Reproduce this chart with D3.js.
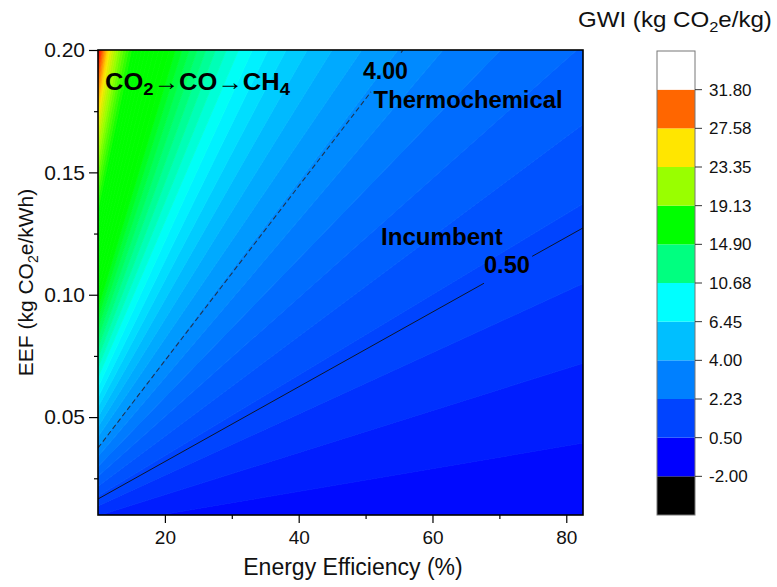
<!DOCTYPE html>
<html><head><meta charset="utf-8">
<script src="https://cdn.jsdelivr.net/npm/d3@7"></script>
<style>
body{margin:0;background:#fff;}
text{font-family:"Liberation Sans",Arial,Helvetica,sans-serif;}
</style>
</head><body>
<svg id="c" width="777" height="587"></svg>
<script>
// ---------------- data ----------------
const effRange = [10, 82.5];            // Energy Efficiency (%)
const eefRange = [0.01, 0.20];          // EEF (kg CO2e/kWh)
const xTicks = [20, 40, 60, 80];
const xMinorTicks = [30, 50, 70];
const yTicks = [0.05, 0.10, 0.15, 0.20];
const yMinorTicks = [0.025, 0.075, 0.125, 0.175];

// labelled contour lines: level, start / end point [efficiency, EEF]
const contourLevels = [0.50, 4.00];
const contourLabels = ["0.50", "4.00"];
const contourStart = [[10, 0.01654], [10, 0.0374]];
const contourEnd = [[82.5, 0.1273], [55.6, 0.200]];
const contourGaps = [[67.7, 74.9], [50.8, 55.3]];   // label gaps (efficiency)
const contourDash = ["none", "5,3"];

// colour bar
const barLevels = [-2.00, 0.50, 2.23, 4.00, 6.45, 10.68, 14.90, 19.13, 23.35, 27.58, 31.80];
const barColors = ["#000000", "#0000ff", "#0044ff", "#0080ff", "#00bfff", "#00ffff",
                   "#00ff80", "#00ff00", "#99ff00", "#ffe600", "#ff6600", "#ffffff"];

// fill colour map of the contour plot
const fillStopValues = [-2.0, 0.5, 2.2, 4.0, 6.0, 8.3, 11.0, 14.0, 20.0, 24.0, 27.0, 29.3, 31.0];
const fillStopColors = ["#0000ff", "#0048ff", "#0068ff", "#0090ff", "#00bfff", "#00ffff",
                        "#00ff80", "#00ff00", "#00ff00", "#99ff00", "#ffe600", "#ff6600", "#ff0000"];
const fillLevelCount = 50;

// annotations [text parts, efficiency, EEF(baseline), width]
const notes = [
  {parts: [["CO", 0], ["2", 1], ["\u2192CO\u2192CH", 0], ["4", 1]], x: 11.05, y: 0.1837, w: 185},
  {parts: [["4.00", 0]], x: 49.6, y: 0.1882, w: 45},
  {parts: [["Thermochemical", 0]], x: 51.2, y: 0.1764, w: 189},
  {parts: [["Incumbent", 0]], x: 52.3, y: 0.1205, w: 122},
  {parts: [["0.50", 0]], x: 67.7, y: 0.1087, w: 46}
];

// ---------------- drawing ----------------
const svg = d3.select("#c");
const P = {left: 98, right: 583, top: 50, bottom: 515};
const x = d3.scaleLinear().domain(effRange).range([P.left, P.right]);
const y = d3.scaleLinear().domain(eefRange).range([P.bottom, P.top]);

const lineParams = contourLevels.map((L, i) => {
  const [x0, y0] = contourStart[i], [x1, y1] = contourEnd[i];
  const m = (y1 - y0) / (x1 - x0);
  return {L, m, p: y0 - m * x0};
});
function paramsFor(L) {
  const a = lineParams[0], b = lineParams[1];
  const t = (L - a.L) / (b.L - a.L);
  return {m: a.m + t * (b.m - a.m), p: a.p + t * (b.p - a.p)};
}
function clipHalf(poly, fn) {
  const out = [];
  for (let i = 0; i < poly.length; i++) {
    const A = poly[i], B = poly[(i + 1) % poly.length];
    const fa = fn(A), fb = fn(B);
    if (fa >= 0) out.push(A);
    if ((fa >= 0) !== (fb >= 0)) {
      const t = fa / (fa - fb);
      out.push([A[0] + t * (B[0] - A[0]), A[1] + t * (B[1] - A[1])]);
    }
  }
  return out;
}

const rect = [[effRange[0], eefRange[0]], [effRange[1], eefRange[0]],
              [effRange[1], eefRange[1]], [effRange[0], eefRange[1]]];
const lo = barLevels[0], hi = barLevels[barLevels.length - 1];
const fillLevels = d3.range(fillLevelCount + 1).map(i => lo + i * (hi - lo) / fillLevelCount);
const cmap = d3.scaleLinear().domain(fillStopValues).range(fillStopColors).interpolate(d3.interpolateRgb).clamp(true);

const bands = [];
for (let i = 0; i < fillLevelCount; i++) {
  let poly = rect.slice();
  if (i > 0) {
    const q = paramsFor(fillLevels[i]);
    poly = clipHalf(poly, d => d[1] - q.p - q.m * d[0]);
  }
  if (i < fillLevelCount - 1) {
    const q = paramsFor(fillLevels[i + 1]);
    poly = clipHalf(poly, d => -(d[1] - q.p - q.m * d[0]));
  }
  if (poly.length > 2) bands.push({poly, c: cmap((fillLevels[i] + fillLevels[i + 1]) / 2)});
}

svg.append("defs").append("clipPath").attr("id", "pc")
  .append("rect").attr("x", P.left).attr("y", P.top)
  .attr("width", P.right - P.left).attr("height", P.bottom - P.top);

const plot = svg.append("g").attr("clip-path", "url(#pc)");
const line = d3.line().x(d => x(d[0])).y(d => y(d[1]));
plot.selectAll("path.band").data(bands).join("path")
  .attr("class", "band")
  .attr("d", d => line(d.poly) + "Z")
  .attr("fill", d => d.c).attr("stroke", d => d.c).attr("stroke-width", 0.8);

// contour lines with label gaps
lineParams.forEach((q, i) => {
  const xEnd = Math.min(effRange[1], (eefRange[1] - q.p) / q.m);
  const segs = [[effRange[0], contourGaps[i][0]], [contourGaps[i][1], xEnd]];
  segs.forEach(s => {
    plot.append("path")
      .attr("d", line([[s[0], q.p + q.m * s[0]], [s[1], q.p + q.m * s[1]]]))
      .attr("fill", "none")
      .attr("stroke", i === 0 ? "#111" : "#1e3550")
      .attr("stroke-width", i === 0 ? 0.9 : 1.1)
      .attr("stroke-dasharray", contourDash[i]);
  });
});

// annotations
function fitWidth(t, w) {
  const bw = t.node().getComputedTextLength();
  return bw > 0 ? w / bw : 1;
}
notes.forEach(n => {
  const g = svg.append("g");
  const t = g.append("text").attr("font-weight", "bold").attr("font-size", 23.5).attr("fill", "#000");
  n.parts.forEach(p => {
    const ts = t.append("tspan").text(p[0]);
    if (p[1]) ts.attr("font-size", 17).attr("dy", 5);
    else if (t.selectAll("tspan").size() > 1) ts.attr("dy", -5);
  });
  const s = fitWidth(t, n.w);
  g.attr("transform", `translate(${x(n.x)},${y(n.y)}) scale(${s},1)`);
});

// axes
const xAxis = svg.append("g").attr("transform", `translate(0,${P.bottom})`)
  .call(d3.axisBottom(x).tickValues(xTicks).tickSize(8).tickPadding(8).tickFormat(d3.format("d")));
svg.append("g").attr("transform", `translate(0,${P.bottom})`)
  .call(d3.axisBottom(x).tickValues(xMinorTicks).tickSize(4).tickFormat(""));
const yAxis = svg.append("g").attr("transform", `translate(${P.left},0)`)
  .call(d3.axisLeft(y).tickValues(yTicks).tickSize(9).tickPadding(4).tickFormat(d3.format(".2f")));
svg.append("g").attr("transform", `translate(${P.left},0)`)
  .call(d3.axisLeft(y).tickValues(yMinorTicks).tickSize(4).tickFormat(""));
svg.selectAll(".domain").remove();
svg.selectAll(".tick line").attr("stroke", "#000").attr("stroke-width", 1.2);
xAxis.selectAll("text").attr("font-size", 19).attr("fill", "#111").attr("font-family", "Liberation Sans, Arial, sans-serif");
yAxis.selectAll("text").attr("font-size", 21).attr("fill", "#111").attr("font-family", "Liberation Sans, Arial, sans-serif");

svg.append("rect").attr("x", P.left).attr("y", P.top)
  .attr("width", P.right - P.left).attr("height", P.bottom - P.top)
  .attr("fill", "none").attr("stroke", "#000").attr("stroke-width", 1.6);

// axis titles
svg.append("text").attr("font-size", 23).attr("fill", "#111").attr("text-anchor", "middle")
  .attr("x", 353).attr("y", 575).text("Energy Efficiency (%)");
const yt = svg.append("text").attr("font-size", 21).attr("fill", "#111").attr("text-anchor", "middle")
  .attr("transform", `translate(33,${(P.top + P.bottom) / 2}) rotate(-90)`);
yt.append("tspan").text("EEF (kg CO");
yt.append("tspan").text("2").attr("font-size", 14).attr("dy", 5);
yt.append("tspan").text("e/kWh)").attr("dy", -5);

// colour bar
const cb = {x: 657, w: 38, top: 51, bottom: 515};
const cy = d3.scaleLinear().domain([0, barColors.length]).range([cb.bottom, cb.top]);
svg.selectAll("rect.cb").data(barColors).join("rect").attr("class", "cb")
  .attr("x", cb.x).attr("width", cb.w)
  .attr("y", (d, i) => cy(i + 1)).attr("height", (d, i) => cy(i) - cy(i + 1))
  .attr("fill", d => d);
svg.append("rect").attr("x", cb.x).attr("y", cb.top).attr("width", cb.w).attr("height", cb.bottom - cb.top)
  .attr("fill", "none").attr("stroke", "#777").attr("stroke-width", 1);
const cbt = svg.append("g").selectAll("g").data(barLevels).join("g")
  .attr("transform", (d, i) => `translate(${cb.x + cb.w},${cy(i + 1)})`);
cbt.append("line").attr("x1", 0).attr("x2", 7).attr("stroke", "#333").attr("stroke-width", 1);
cbt.append("text").attr("x", 14).attr("dy", "0.36em").attr("font-size", 17).attr("fill", "#111")
  .text(d => d.toFixed(2));

const ctg = svg.append("g");
const ct = ctg.append("text").attr("font-size", 22).attr("fill", "#111");
ct.append("tspan").text("GWI (kg CO");
ct.append("tspan").text("2").attr("font-size", 15).attr("dy", 5);
ct.append("tspan").text("e/kg)").attr("dy", -5);
ctg.attr("transform", `translate(578,27) scale(${fitWidth(ct, 194)},1)`);
</script>
</body></html>
